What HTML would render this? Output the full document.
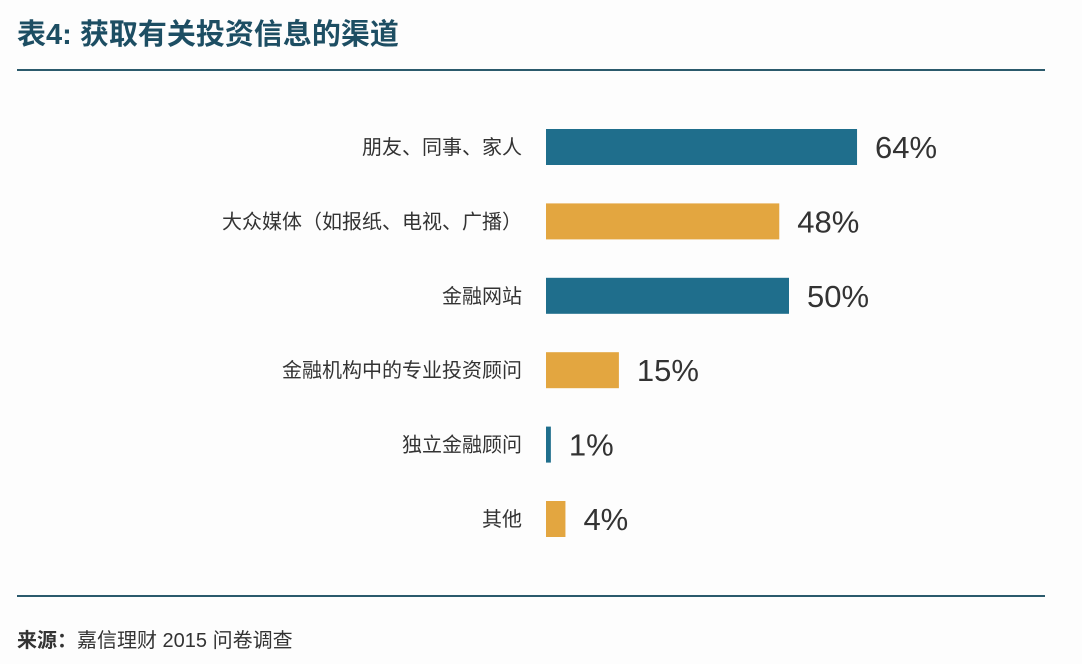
<!DOCTYPE html>
<html><head><meta charset="utf-8"><style>
body{margin:0;width:1082px;height:664px;background:#fdfdfd;position:relative;overflow:hidden;font-family:"Liberation Sans","Noto Sans CJK SC",sans-serif}
.title{position:absolute;left:17px;top:11px;font-size:29px;font-weight:bold;color:#1d4e63;white-space:nowrap}
.rule{position:absolute;left:17px;width:1028px;height:2px;background:#2b5a6c}
.src{position:absolute;left:17px;top:624px;font-size:20px;color:#333;white-space:nowrap}
</style></head><body>
<div class="title">表4: 获取有关投资信息的渠道</div>
<div class="rule" style="top:69px"></div>
<div class="rule" style="top:595px"></div>
<div class="src"><b>来源：</b>嘉信理财 2015 问卷调查</div>
<svg id="chart" width="1082" height="664" style="position:absolute;left:0;top:0"></svg>
<script>
const categories=["朋友、同事、家人","大众媒体（如报纸、电视、广播）","金融网站","金融机构中的专业投资顾问","独立金融顾问","其他"];
const values=[64,48,50,15,1,4];
const valueLabels=["64%","48%","50%","15%","1%","4%"];
const colors=["#1f6e8c","#e3a640","#1f6e8c","#e3a640","#1f6e8c","#e3a640"];
const svg=document.getElementById('chart');
const NS='http://www.w3.org/2000/svg';
const x0=546,scale=4.86;
const xs=v=>x0+v*scale;
const ys=i=>147+i*74.4;
categories.forEach((c,i)=>{
  const r=document.createElementNS(NS,'rect');
  r.setAttribute('x',x0);r.setAttribute('y',ys(i)-18);
  r.setAttribute('width',Math.max(xs(values[i])-x0,2));r.setAttribute('height',36);
  r.setAttribute('fill',colors[i]);
  
  
  svg.appendChild(r);
  const t=document.createElementNS(NS,'text');
  t.setAttribute('x',522);t.setAttribute('y',ys(i)+7);t.setAttribute('text-anchor','end');
  t.setAttribute('font-size','20');t.setAttribute('fill','#333');
  t.textContent=c;
  
  
  svg.appendChild(t);
  const v=document.createElementNS(NS,'text');
  v.setAttribute('x',xs(values[i])+18);v.setAttribute('y',ys(i)+11);
  v.setAttribute('font-size','31');v.setAttribute('fill','#333');
  v.textContent=valueLabels[i];
  
  
  svg.appendChild(v);
});
</script>
</body></html>
